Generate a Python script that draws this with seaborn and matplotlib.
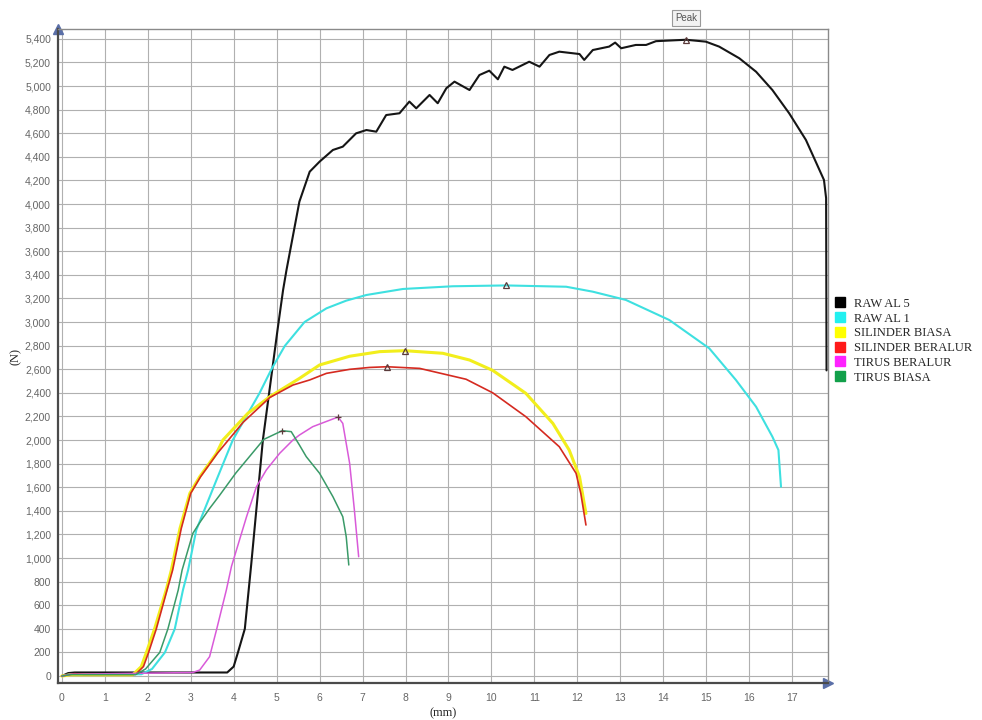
import matplotlib
matplotlib.use("Agg")
import matplotlib.pyplot as plt
import seaborn as sns
import pandas as pd
from matplotlib.lines import Line2D
from matplotlib.ticker import MultipleLocator, FuncFormatter

# displacement (mm) / force (N)
raw_al5_x = [0.0, 0.15, 0.3, 3.85, 4.0, 4.1, 4.26, 4.41, 4.68, 5.02, 5.15, 5.23, 5.53, 5.77,
             6.0, 6.31, 6.54, 6.85, 7.09, 7.32, 7.55, 7.86, 8.09, 8.25, 8.56, 8.75, 8.95,
             9.14, 9.49, 9.72, 9.95, 10.15, 10.3, 10.49, 10.88, 11.12, 11.35, 11.58, 12.05,
             12.16, 12.36, 12.74, 12.88, 13.02, 13.36, 13.6, 13.83, 14.53, 14.99, 15.3,
             15.77, 16.16, 16.54, 16.93, 17.32, 17.74, 17.79, 17.8]
raw_al5_y = [0, 25, 30, 30, 80, 200, 400, 950, 2000, 2930, 3270, 3441, 4020, 4274,
             4359, 4458, 4486, 4599, 4627, 4613, 4754, 4769, 4868, 4811, 4924, 4854, 4981,
             5037, 4966, 5093, 5130, 5057, 5164, 5136, 5206, 5164, 5263, 5291, 5271,
             5221, 5305, 5334, 5368, 5320, 5348, 5348, 5380, 5392, 5376, 5334,
             5235, 5121, 4966, 4769, 4543, 4204, 4050, 2590]

raw_al1_x = [0.0, 0.2, 1.85, 2.1, 2.4, 2.63, 2.82, 2.94, 3.13, 3.6, 3.98, 4.29, 4.6, 4.88,
             5.19, 5.65, 6.16, 6.62, 7.09, 7.94, 9.1, 10.34, 11.74, 12.36, 13.13, 14.14,
             15.07, 15.69, 16.16, 16.54, 16.68, 16.74]
raw_al1_y = [0, 15, 15, 60, 200, 400, 729, 898, 1237, 1661, 2000, 2198, 2396, 2600,
             2797, 3000, 3116, 3181, 3229, 3280, 3303, 3310, 3299, 3257, 3187, 3017,
             2777, 2509, 2282, 2028, 1915, 1604]

silinder_biasa_x = [0.0, 0.2, 1.65, 1.85, 1.97, 2.16, 2.43, 2.55, 2.75, 2.98, 3.21, 3.6, 3.75,
                    4.33, 4.84, 5.53, 6.0, 6.7, 7.4, 7.98, 8.87, 9.49, 10.03, 10.8, 11.43,
                    11.81, 12.05, 12.2]
silinder_biasa_y = [0, 10, 10, 80, 200, 400, 729, 898, 1250, 1548, 1689, 1887, 2000,
                    2226, 2367, 2522, 2636, 2710, 2749, 2757, 2735, 2678, 2590, 2396, 2141,
                    1915, 1689, 1378]

silinder_beralur_x = [0.0, 0.3, 0.5, 1.72, 1.9, 2.02, 2.2, 2.45, 2.58, 2.78, 3.0, 3.23, 3.62,
                      4.22, 4.84, 5.38, 5.77, 6.16, 6.7, 7.16, 7.57, 8.33, 9.41, 10.03,
                      10.8, 11.58, 11.97, 12.08, 12.2]
silinder_beralur_y = [0, 20, 15, 15, 80, 200, 400, 729, 898, 1250, 1548, 1689, 1887,
                      2150, 2360, 2466, 2509, 2565, 2599, 2615, 2621, 2607, 2515, 2400,
                      2198, 1943, 1718, 1548, 1280]

tirus_beralur_x = [0.0, 0.2, 3.05, 3.21, 3.44, 3.6, 3.83, 3.95, 4.3, 4.53, 4.76, 5.07, 5.38,
                   5.53, 5.84, 6.43, 6.54, 6.7, 6.81, 6.91]
tirus_beralur_y = [0, 15, 30, 51, 164, 390, 729, 930, 1350, 1604, 1746, 1887, 2000,
                   2042, 2113, 2195, 2141, 1802, 1407, 1011]

tirus_biasa_x = [0.0, 0.2, 1.72, 1.95, 2.28, 2.47, 2.71, 2.8, 3.05, 3.21, 3.44, 3.67, 4.05,
                 4.7, 5.13, 5.34, 5.53, 5.69, 6.0, 6.31, 6.54, 6.62, 6.68]
tirus_biasa_y = [0, 12, 12, 60, 200, 400, 729, 898, 1209, 1300, 1420, 1530, 1720,
                 2005, 2079, 2071, 1958, 1859, 1718, 1520, 1350, 1181, 941]

series_names = ["RAW AL 5", "RAW AL 1", "SILINDER BIASA", "SILINDER BERALUR",
                "TIRUS BERALUR", "TIRUS BIASA"]
series_x = [raw_al5_x, raw_al1_x, silinder_biasa_x, silinder_beralur_x,
            tirus_beralur_x, tirus_biasa_x]
series_y = [raw_al5_y, raw_al1_y, silinder_biasa_y, silinder_beralur_y,
            tirus_beralur_y, tirus_biasa_y]
line_colors = ["#151515", "#3ee0e0", "#f2ee1c", "#d52a20", "#d95ad9", "#3a9a68"]
legend_colors = ["#000000", "#22f0f0", "#ffff00", "#ff1a1a", "#ff22ff", "#12a04a"]
line_widths = [1.5, 1.5, 2.2, 1.2, 1.1, 1.1]
peak_markers = ["^", "^", "^", "^", "+", "+"]

tick_font = ["Liberation Sans", "DejaVu Sans"]
serif_font = ["Liberation Serif", "DejaVu Serif"]

sns.set_style("white")
fig = plt.figure(figsize=(9.82, 7.2), dpi=100)
ax = fig.add_axes([0.059, 0.0514, 0.784, 0.9083])

ax.xaxis.set_major_locator(MultipleLocator(1))
ax.xaxis.set_minor_locator(MultipleLocator(0.2))
ax.yaxis.set_major_locator(MultipleLocator(200))
ax.grid(True, which="major", color="#b0b0b0", linewidth=0.8)
ax.set_axisbelow(True)

for name, xs, ys, c, lw, mk in zip(series_names, series_x, series_y, line_colors,
                                    line_widths, peak_markers):
    df = pd.DataFrame({"mm": xs, "N": ys})
    sns.lineplot(data=df, x="mm", y="N", color=c, linewidth=lw, sort=False,
                 estimator=None, ax=ax, legend=False)
    peak = df.loc[df["N"].idxmax()]
    ax.plot(peak["mm"], peak["N"], marker=mk, markersize=5 if mk == "^" else 4,
            markerfacecolor="none", markeredgecolor="#5a3a3a", markeredgewidth=0.9,
            linestyle="none")

ax.set_xlim(-0.09, 17.83)
ax.set_ylim(-59, 5483)

# "Peak" tag over the top curve
top = max(range(len(raw_al5_y)), key=lambda i: raw_al5_y[i])
ax.text(raw_al5_x[top], 5577, "Peak", ha="center", va="center", fontsize=7,
        family=tick_font, color="#555555", clip_on=False,
        bbox=dict(boxstyle="square,pad=0.3", fc="#f2f2f2", ec="#999999", lw=0.8))

for side in ["top", "right"]:
    ax.spines[side].set_color("#8a8a8a")
    ax.spines[side].set_linewidth(1.0)
for side in ["left", "bottom"]:
    ax.spines[side].set_color("#4a4a4a")
    ax.spines[side].set_linewidth(1.6)

# axis arrows
ax.plot(0, 1, marker="^", color="#5a6fa8", markersize=7, transform=ax.transAxes,
        clip_on=False)
ax.plot(1, 0, marker=">", color="#5a6fa8", markersize=7, transform=ax.transAxes,
        clip_on=False)

ax.yaxis.set_major_formatter(FuncFormatter(lambda v, p: f"{int(v):,}"))
ax.tick_params(axis="both", which="major", labelsize=7.5, colors="#4a4a4a",
               labelcolor="#666666", length=3, direction="in")
ax.tick_params(axis="x", which="major", pad=7)
ax.tick_params(axis="y", which="major", pad=5)
ax.tick_params(axis="x", which="minor", length=2, direction="in", color="#777777")
for lbl in ax.get_xticklabels() + ax.get_yticklabels():
    lbl.set_family(tick_font)

ax.set_xlabel("(mm)", family=serif_font, fontsize=9, labelpad=3)
ax.set_ylabel("(N)", family=serif_font, fontsize=9, labelpad=2)

handles = [Line2D([], [], marker="s", linestyle="none", color=c, markersize=7)
           for c in legend_colors]
fig.legend(handles, series_names, loc="upper left", bbox_to_anchor=(0.838, 0.602),
           frameon=False, handletextpad=0.6, labelspacing=0.22, handlelength=1.0,
           prop={"family": serif_font, "size": 9})

plt.savefig("out.png", dpi=100)
plt.close()
